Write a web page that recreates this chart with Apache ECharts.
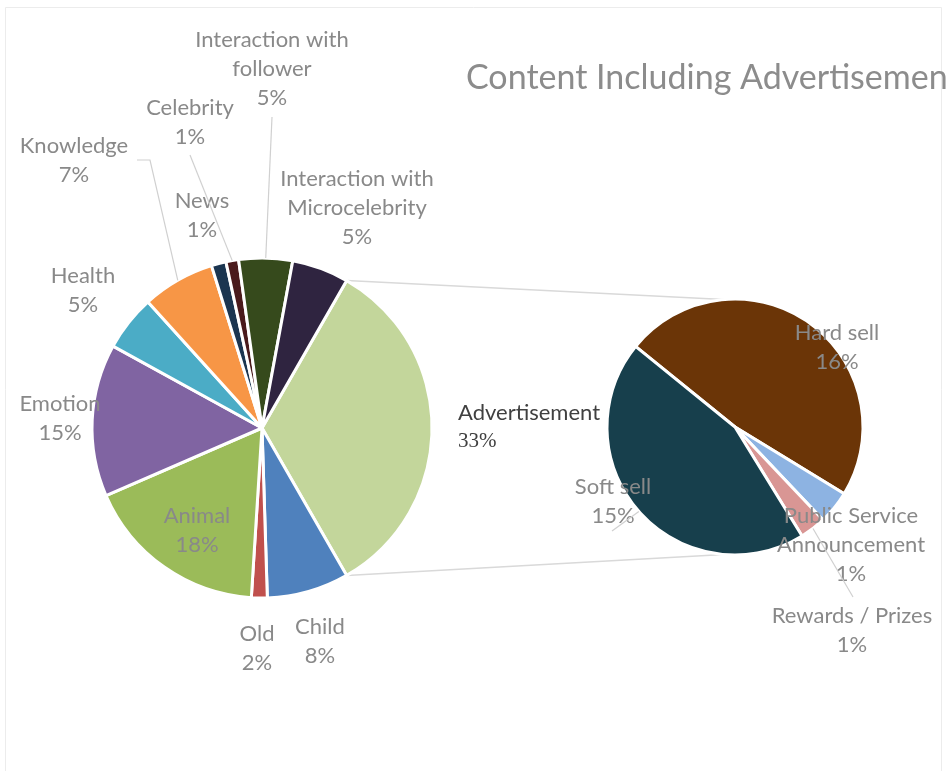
<!DOCTYPE html>
<html>
<head>
<meta charset="utf-8">
<script src="https://cdn.jsdelivr.net/npm/echarts@6/dist/echarts.min.js"></script>
<style>
  html, body { margin: 0; padding: 0; background: #ffffff; }
  #chart { width: 947px; height: 771px; }
</style>
</head>
<body>
<div id="chart"></div>
<script>
// Share of all posts (%), main pie, clockwise from the split slice
const mainCategories = ['Advertisement', 'Child', 'Old', 'Animal', 'Emotion', 'Health',
  'Knowledge', 'News', 'Celebrity', 'Interaction with follower', 'Interaction with Microcelebrity'];
const mainValues = [33.4, 7.8, 1.5, 17.5, 14.5, 5.3, 6.9, 1.4, 1.2, 5.1, 5.4];

// Breakdown of the Advertisement slice (% of all posts)
const adCategories = ['Hard sell', 'Public Service Announcement', 'Rewards / Prizes', 'Soft sell'];
const adValues = [16.0, 1.4, 1.1, 14.9];

const chartTitle = 'Content Including Advertisement';

// ---- styling / layout ----
const mainColors = ['#c3d69b', '#4f81bd', '#c0504d', '#9bbb59', '#8064a2', '#4bacc6',
  '#f79646', '#1b3550', '#4a1a1c', '#364a1c', '#2f2440'];
const adColors = ['#6b3507', '#8db3e2', '#d99694', '#173f4c'];

const MAIN_C = [262, 428], MAIN_R = 170;
const AD_C = [735, 427], AD_R = 128;
const AD_START = 141;           // degrees, counter-clockwise from 3 o'clock
const LABEL_GRAY = '#898989';
const FONT = 'Lato, "Open Sans", sans-serif';
const SERIF = '"Liberation Serif", "DejaVu Serif", serif';

// label centres, offset from each pie's centre
const mainLabelAt = {
  'Advertisement': [196, -1, 'left'],
  'Child': [58, 213],
  'Old': [-5, 220],
  'Animal': [-65, 102],
  'Emotion': [-202, -10],
  'Health': [-179, -138],
  'Knowledge': [-188, -268],
  'News': [-60, -213],
  'Celebrity': [-72, -306],
  'Interaction with follower': [10, -359],
  'Interaction with Microcelebrity': [95, -220]
};
const adLabelAt = {
  'Hard sell': [102, -80],
  'Public Service Announcement': [116, 118],
  'Rewards / Prizes': [117, 203],
  'Soft sell': [-122, 74]
};
// leader-line bends, relative to the label centre (start is the slice edge)
const mainLeaders = {
  'Interaction with follower': [[0, 48]],
  'Celebrity': [[0, 33]],
  'Knowledge': [[76, 0], [63, 0]]
};
const adLeaders = {
  'Rewards / Prizes': [[1, -33]],
  'Soft sell': [[-1, 30]]
};

const sum = a => a.reduce((s, v) => s + v, 0);
const MAIN_START = mainValues[0] / sum(mainValues) * 180;   // split slice centred on 3 o'clock

function wrapName(name) {
  if (name.indexOf('Interaction with ') === 0) return 'Interaction with\n' + name.slice(17);
  if (name === 'Public Service Announcement') return 'Public Service\nAnnouncement';
  return name;
}
function pct(v) { return Math.round(v) + '%'; }

// screen angle (radians, clockwise, y down) of slice middle
function midAngle(values, startDeg, idx) {
  const total = sum(values);
  let acc = 0;
  for (let i = 0; i < idx; i++) acc += values[i];
  const frac = (acc + values[idx] / 2) / total;
  return (-startDeg + frac * 360) * Math.PI / 180;
}
function polar(c, r, a) { return [c[0] + r * Math.cos(a), c[1] + r * Math.sin(a)]; }

function leaderLines(cats, values, startDeg, c, r, labelAt, leaders) {
  const out = [];
  cats.forEach((name, i) => {
    if (!leaders[name]) return;
    const a = midAngle(values, startDeg, i);
    const lc = [c[0] + labelAt[name][0], c[1] + labelAt[name][1]];
    const pts = [polar(c, r, a)].concat(leaders[name].map(d => [lc[0] + d[0], lc[1] + d[1]]));
    out.push({
      type: 'polyline', z: 10, silent: true,
      shape: { points: pts },
      style: { stroke: '#d0d0d0', lineWidth: 1.2, fill: null }
    });
  });
  return out;
}

// connectors from the split slice to the breakdown pie
const adTopA = -MAIN_START * Math.PI / 180, adBotA = MAIN_START * Math.PI / 180;
const connectors = [
  [polar(MAIN_C, MAIN_R, adTopA), polar(AD_C, AD_R, -95 * Math.PI / 180)],
  [polar(MAIN_C, MAIN_R, adBotA), polar(AD_C, AD_R, 95 * Math.PI / 180)]
].map(p => ({
  type: 'polyline', z: 0, silent: true,
  shape: { points: p },
  style: { stroke: '#d9d9d9', lineWidth: 1.5, fill: null }
}));

const baseLabel = {
  show: true,
  position: 'inside',
  color: LABEL_GRAY,
  fontFamily: FONT,
  fontSize: 22,
  lineHeight: 29,
  align: 'center'
};

const mainData = mainCategories.map((name, i) => {
  const d = { name: name, value: mainValues[i], itemStyle: { color: mainColors[i] } };
  if (name === 'Advertisement') {
    d.label = {
      formatter: p => '{n|' + p.name + '}\n{p|' + pct(p.value) + '}',
      align: 'left',
      rich: {
        n: { color: '#404040', fontFamily: FONT, fontSize: 22, lineHeight: 29, align: 'left' },
        p: { color: '#404040', fontFamily: SERIF, fontSize: 21, lineHeight: 29, align: 'left' }
      }
    };
  }
  return d;
});
const adData = adCategories.map((name, i) => ({
  name: name, value: adValues[i], itemStyle: { color: adColors[i] }
}));

const chart = echarts.init(document.getElementById('chart'), null, { renderer: 'canvas' });
chart.setOption({
  backgroundColor: '#ffffff',
  animation: false,
  title: {
    text: chartTitle,
    left: 461, top: 56,
    textStyle: { color: '#8c8c8c', fontFamily: FONT, fontSize: 34, fontWeight: 'normal' }
  },
  graphic: [{
    type: 'rect', z: -1, silent: true,
    shape: { x: 5.5, y: 7.5, width: 936, height: 770 },
    style: { fill: null, stroke: '#ececec', lineWidth: 1 }
  }].concat(connectors)
    .concat(leaderLines(mainCategories, mainValues, MAIN_START, MAIN_C, MAIN_R, mainLabelAt, mainLeaders))
    .concat(leaderLines(adCategories, adValues, AD_START, AD_C, AD_R, adLabelAt, adLeaders)),
  series: [
    {
      type: 'pie',
      name: 'Content',
      center: MAIN_C,
      radius: MAIN_R,
      startAngle: MAIN_START,
      clockwise: true,
      avoidLabelOverlap: false,
      itemStyle: { borderColor: '#ffffff', borderWidth: 3 },
      label: Object.assign({}, baseLabel, {
        formatter: p => wrapName(p.name) + '\n' + pct(p.value)
      }),
      labelLine: { show: false },
      labelLayout: params => {
        const o = mainLabelAt[mainCategories[params.dataIndex]];
        return {
          x: MAIN_C[0] + o[0], y: MAIN_C[1] + o[1],
          align: o[2] || 'center', verticalAlign: 'middle'
        };
      },
      emphasis: { disabled: true },
      data: mainData
    },
    {
      type: 'pie',
      name: 'Advertisement',
      center: AD_C,
      radius: AD_R,
      startAngle: AD_START,
      clockwise: true,
      avoidLabelOverlap: false,
      itemStyle: { borderColor: '#ffffff', borderWidth: 3 },
      label: Object.assign({}, baseLabel, {
        formatter: p => wrapName(p.name) + '\n' + pct(p.value)
      }),
      labelLine: { show: false },
      labelLayout: params => {
        const o = adLabelAt[adCategories[params.dataIndex]];
        return {
          x: AD_C[0] + o[0], y: AD_C[1] + o[1],
          align: 'center', verticalAlign: 'middle'
        };
      },
      emphasis: { disabled: true },
      data: adData
    }
  ]
});
</script>
</body>
</html>
